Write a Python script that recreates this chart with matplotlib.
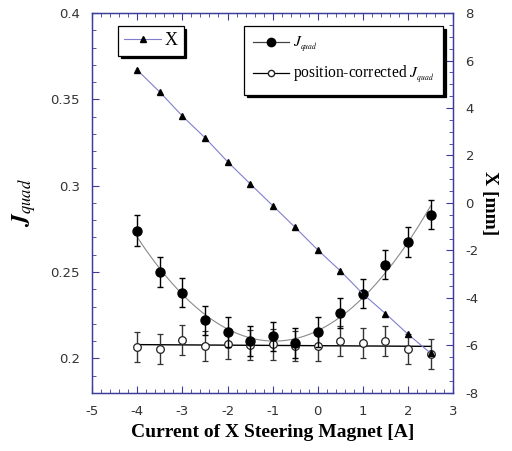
import numpy as np
import matplotlib
matplotlib.use("Agg")
import matplotlib.pyplot as plt

plt.rcParams['mathtext.fontset'] = 'stix'
plt.rcParams['axes.unicode_minus'] = False

# data
current = np.array([-4, -3.5, -3, -2.5, -2, -1.5, -1, -0.5, 0, 0.5, 1, 1.5, 2, 2.5])
x_pos = [5.6, 4.67, 3.66, 2.75, 1.74, 0.81, -0.11, -1.03, -1.98, -2.86, -3.83, -4.66, -5.53, -6.33]
jquad = np.array([0.274, 0.250, 0.238, 0.222, 0.2152, 0.210, 0.2127, 0.209, 0.2152,
                  0.2262, 0.2375, 0.2543, 0.2673, 0.2833])
jquad_err = [0.0088, 0.0086, 0.0085, 0.0084, 0.0085, 0.0085, 0.0085, 0.0086, 0.0085,
             0.0085, 0.0086, 0.0085, 0.0086, 0.0085]
jcorr = np.array([0.2064, 0.2052, 0.2106, 0.2069, 0.2081, 0.2077, 0.2080, 0.2073, 0.2073,
                  0.2098, 0.2087, 0.2102, 0.2054, 0.2023])
jcorr_err = [0.0087, 0.0087, 0.0087, 0.0087, 0.0087, 0.0087, 0.0087, 0.0087, 0.0087,
             0.0087, 0.0087, 0.0087, 0.0087, 0.0087]

navy = '#3c3c9c'
serif = 'Liberation Serif'

fig = plt.figure(figsize=(5.12, 4.51), dpi=100)
ax = fig.add_axes([0.18, 0.129, 0.705, 0.842])

# fits
xf = np.linspace(current[0], current[-1], 200)
p2 = np.polyfit(current, jquad, 2)
ax.plot(xf, np.polyval(p2, xf), color='#8a8a8a', lw=0.8, zorder=2)
p1 = np.polyfit(current, jcorr, 1)
ax.plot(xf, np.polyval(p1, xf), color='black', lw=1.0, zorder=2)

ax.errorbar(current, jcorr, yerr=jcorr_err, fmt='o', mfc='white', mec='#222222',
            ms=5.5, mew=0.9, ecolor='#333333', elinewidth=1.0, capsize=2.5, zorder=3)
ax.errorbar(current, jquad, yerr=jquad_err, fmt='o', color='black', ms=6.5,
            ecolor='black', elinewidth=1.0, capsize=2.5, zorder=4)

ax.set_xlim(-5, 3)
ax.set_ylim(0.18, 0.4)
ax.set_xticks(np.arange(-5, 3.1, 1))
ax.set_xticks(np.arange(-5, 3.01, 0.2), minor=True)
ax.set_yticks([0.2, 0.25, 0.3, 0.35, 0.4])
ax.set_yticklabels(['0.2', '0.25', '0.3', '0.35', '0.4'])
ax.set_yticks(np.arange(0.18, 0.401, 0.01), minor=True)
ax.tick_params(which='both', direction='in', color=navy, top=True, labelsize=9.5,
               labelcolor='#333333', pad=9)
ax.tick_params(which='major', length=5)
ax.tick_params(which='minor', length=3)
ax.tick_params(axis='y', which='both', right=False)
for s in ax.spines.values():
    s.set_color(navy)
    s.set_linewidth(1.0)

ax.set_xlabel('Current of X Steering Magnet [A]', fontsize=14, fontweight='bold',
              family=serif, labelpad=4)
ax.set_ylabel(r'$\boldsymbol{J}_{quad}$', fontsize=17, labelpad=9)

ax2 = ax.twinx()
ax2.plot(current, x_pos, color='#7f7fd0', lw=0.8, marker='^', mfc='black', mec='black',
         ms=5, zorder=3)
ax2.set_ylim(-8, 8)
ax2.set_yticks(np.arange(-8, 8.1, 2))
ax2.set_yticks(np.arange(-8, 8.01, 0.5), minor=True)
ax2.tick_params(which='both', direction='in', color=navy, labelsize=9.5,
                labelcolor='#333333', pad=9)
ax2.tick_params(which='major', length=5)
ax2.tick_params(which='minor', length=3)
for s in ax2.spines.values():
    s.set_color(navy)
ax2.set_ylabel('X [mm]', fontsize=14, fontweight='bold', family=serif, rotation=270,
               labelpad=14)

# legends
h_x, = ax2.plot([], [], color='#7f7fd0', lw=0.8, marker='^', mfc='black', mec='black', ms=5)
leg1 = ax2.legend([h_x], ['X'], loc='upper left', bbox_to_anchor=(0.072, 0.966),
                  borderaxespad=0, frameon=True, fancybox=False,
                  shadow={'color': 'black', 'alpha': 1}, edgecolor='black',
                  prop={'family': serif, 'size': 13},
                  handlelength=2.0, borderpad=0.35, handletextpad=0.2)
leg1.get_frame().set_linewidth(0.9)

h_j, = ax.plot([], [], color='#444444', lw=0.9, marker='o', mfc='black', mec='black', ms=6)
h_c, = ax.plot([], [], color='black', lw=0.9, marker='o', mfc='white', mec='#222222', ms=4.5)
leg2 = ax2.legend([h_j, h_c], [r'$J_{_{quad}}$', r'position-corrected $J_{_{quad}}$'],
                  loc='upper right', bbox_to_anchor=(0.972, 0.966), borderaxespad=0,
                  frameon=True, fancybox=False, shadow={'color': 'black', 'alpha': 1},
                  edgecolor='black', prop={'family': serif, 'size': 11.2},
                  handlelength=2.3, borderpad=0.55, handletextpad=0.3, labelspacing=0.6)
leg2.get_frame().set_linewidth(0.9)
ax2.add_artist(leg1)

fig.savefig('out.png', dpi=100)
